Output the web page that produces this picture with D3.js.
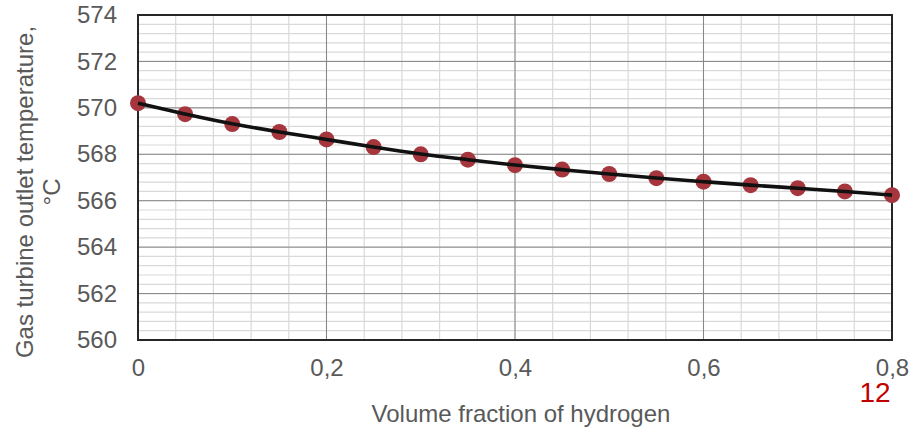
<!DOCTYPE html>
<meta charset="utf-8">
<script src="https://d3js.org/d3.v7.min.js"></script>
<style>
  body { margin: 0; background: #fff; }
  text { font-family: "Liberation Sans", Arial, sans-serif; }
</style>
<div id="my_dataviz"></div>
<script>
  // hydrogen fraction and outlet temperature
  var fraction = [0, 0.05, 0.1, 0.15, 0.2, 0.25, 0.3, 0.35, 0.4, 0.45, 0.5, 0.55, 0.6, 0.65, 0.7, 0.75, 0.8];
  var temperature = [570.2, 569.73, 569.3, 568.96, 568.64, 568.31, 568.0, 567.77, 567.53, 567.34, 567.15, 566.97, 566.82, 566.67, 566.54, 566.4, 566.24];
  var xTicks = [0, 0.2, 0.4, 0.6, 0.8];
  var yTicks = [560, 562, 564, 566, 568, 570, 572, 574];

  var data = fraction.map(function (f, i) { return { f: f, t: temperature[i] }; });

  var margin = { top: 15, right: 24, bottom: 89, left: 138 },
    width = 916 - margin.left - margin.right,
    height = 429 - margin.top - margin.bottom;

  var svg = d3.select("#my_dataviz")
    .append("svg")
    .attr("width", 916)
    .attr("height", 429);

  var g = svg.append("g")
    .attr("transform", "translate(" + margin.left + "," + margin.top + ")");

  var x = d3.scaleLinear().domain([0, 0.8]).range([0, width]);
  var y = d3.scaleLinear().domain([560, 574]).range([height, 0]);

  // minor grid
  g.append("g")
    .selectAll("line")
    .data(d3.range(0, 21).map(function (i) { return i * 0.04; }))
    .enter().append("line")
    .attr("x1", function (d) { return x(d); })
    .attr("x2", function (d) { return x(d); })
    .attr("y1", 0).attr("y2", height)
    .attr("stroke", "#d9d9d9").attr("stroke-width", 1.2);

  g.append("g")
    .selectAll("line")
    .data(d3.range(0, 36).map(function (i) { return 560 + i * 0.4; }))
    .enter().append("line")
    .attr("y1", function (d) { return y(d); })
    .attr("y2", function (d) { return y(d); })
    .attr("x1", 0).attr("x2", width)
    .attr("stroke", "#d9d9d9").attr("stroke-width", 1.2);

  // major grid
  g.append("g")
    .selectAll("line")
    .data(xTicks)
    .enter().append("line")
    .attr("x1", function (d) { return x(d); })
    .attr("x2", function (d) { return x(d); })
    .attr("y1", 0).attr("y2", height)
    .attr("stroke", "#878787").attr("stroke-width", 1);

  g.append("g")
    .selectAll("line")
    .data(yTicks)
    .enter().append("line")
    .attr("y1", function (d) { return y(d); })
    .attr("y2", function (d) { return y(d); })
    .attr("x1", 0).attr("x2", width)
    .attr("stroke", "#878787").attr("stroke-width", 1);

  // plot border
  g.append("rect")
    .attr("width", width).attr("height", height)
    .attr("fill", "none")
    .attr("stroke", "#262626").attr("stroke-width", 2);

  // axes (labels only)
  var xAxis = g.append("g")
    .attr("transform", "translate(0," + height + ")")
    .call(d3.axisBottom(x).tickValues(xTicks).tickSize(0).tickPadding(19)
      .tickFormat(function (d) { return d === 0 ? "0" : d3.format(".1f")(d).replace(".", ","); }));
  xAxis.select(".domain").remove();
  xAxis.selectAll("text").attr("fill", "#595959").style("font-size", "24px")
    .style("font-family", "'Liberation Sans', Arial, sans-serif");

  var yAxis = g.append("g")
    .call(d3.axisLeft(y).tickValues(yTicks).tickSize(0).tickPadding(21));
  yAxis.select(".domain").remove();
  yAxis.selectAll("text").attr("fill", "#595959").style("font-size", "24px")
    .style("font-family", "'Liberation Sans', Arial, sans-serif");

  // markers
  g.append("g")
    .selectAll("circle")
    .data(data)
    .enter().append("circle")
    .attr("cx", function (d) { return x(d.f); })
    .attr("cy", function (d) { return y(d.t); })
    .attr("r", 8)
    .attr("fill", "#a5363d");

  // trend line
  g.append("path")
    .datum(data)
    .attr("fill", "none")
    .attr("stroke", "#111")
    .attr("stroke-width", 3.6)
    .attr("d", d3.line()
      .curve(d3.curveBasis)
      .x(function (d) { return x(d.f); })
      .y(function (d) { return y(d.t); }));

  // axis titles
  var yt = svg.append("text")
    .attr("transform", "translate(33,192) rotate(-90)")
    .attr("text-anchor", "middle")
    .attr("fill", "#595959")
    .style("font-size", "24px");
  yt.append("tspan").attr("x", 0).attr("dy", 0).text("Gas turbine outlet temperature,");
  yt.append("tspan").attr("x", 0).attr("dy", 27).text("°C");

  svg.append("text")
    .attr("x", 521)
    .attr("y", 422)
    .attr("text-anchor", "middle")
    .attr("fill", "#595959")
    .style("font-size", "24px")
    .text("Volume fraction of hydrogen");

  svg.append("text")
    .attr("x", 875)
    .attr("y", 402)
    .attr("text-anchor", "middle")
    .attr("fill", "#c00000")
    .style("font-size", "28px")
    .text("12");
</script>
